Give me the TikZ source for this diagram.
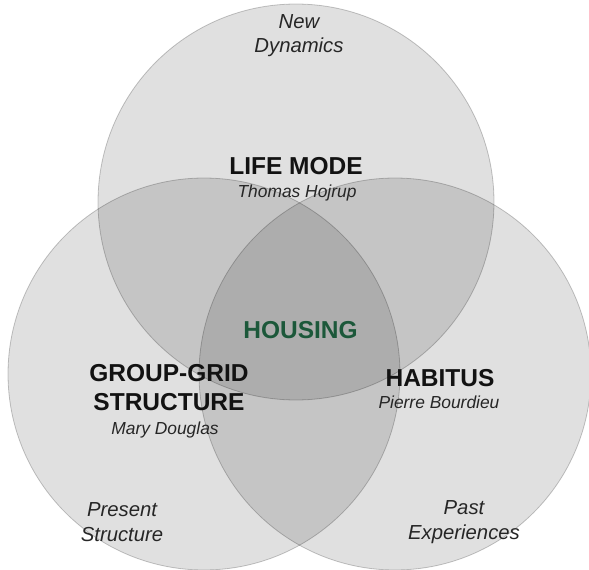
\documentclass[tikz,border=0pt]{standalone}
\usepackage{fontspec}
\setmainfont{Liberation Sans}
\definecolor{housegreen}{RGB}{28,88,58}
\begin{document}
\begin{tikzpicture}[x=1pt,y=-1pt,
  venn/.style={fill=black, fill opacity=0.12, draw=black, draw opacity=0.22, line width=0.8pt},
  head/.style={font=\bfseries\fontsize{24.5}{29}\selectfont, text=black!93, inner sep=0pt, anchor=base},
  who/.style={font=\itshape\fontsize{17.4}{21}\selectfont, text=black!85, inner sep=0pt, anchor=base},
  outer/.style={font=\itshape\fontsize{20.3}{24.5}\selectfont, text=black!85, inner sep=0pt, anchor=base}]
\useasboundingbox (0,0) rectangle (589,570);
% circles
\path[venn] (296,202) circle[radius=198pt];
\path[venn] (204,374) circle[radius=196pt];
\path[venn] (395,374) circle[radius=196pt];
% top circle labels
\node[outer] (new1) at (299,28) {New};
\node[outer] (new2) at (299,52) {Dynamics};
\node[head] (life) at (296,174) {LIFE MODE};
\node[who] (thomas) at (297,197) {Thomas Hojrup};
% centre
\node[head, text=housegreen] (housing) at (300.5,338) {HOUSING};
% left circle
\node[head] (gg1) at (169,381) {GROUP-GRID};
\node[head] (gg2) at (169,410) {STRUCTURE};
\node[who] (mary) at (165,434) {Mary Douglas};
\node[outer] (pres1) at (122,516) {Present};
\node[outer] (pres2) at (122,541) {Structure};
% right circle
\node[head] (hab) at (440,386) {HABITUS};
\node[who] (pierre) at (439,408) {Pierre Bourdieu};
\node[outer] (past1) at (464,514) {Past};
\node[outer] (past2) at (464,539) {Experiences};
\end{tikzpicture}
\end{document}
